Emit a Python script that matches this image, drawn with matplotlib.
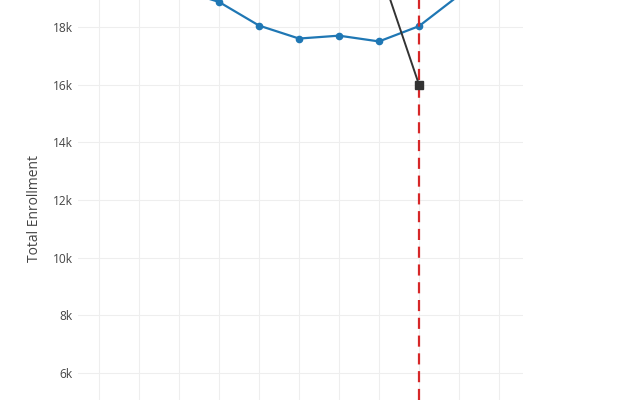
import matplotlib
matplotlib.use('Agg')
import matplotlib.pyplot as plt
from matplotlib.ticker import FuncFormatter

# data (points outside the visible window are rough guesses)
years = [2012, 2013, 2014, 2015, 2016, 2017, 2018, 2019, 2020, 2021, 2022]
enrollment = [20600, 20000, 19300, 18870, 18050, 17600, 17700, 17500, 18030, 19100, 19800]

proj_years = [2019, 2020]
proj_values = [20100, 16000]

event_year = 2020

plt.rcParams['font.family'] = ['Open Sans', 'DejaVu Sans']

fig = plt.figure(figsize=(6.4, 4), dpi=100)
ax = fig.add_axes([78/640, 0, (523-78)/640, 1])

ax.plot(years, enrollment, color='#1f77b4', lw=1.6, marker='o', ms=4.5, zorder=3)
ax.plot(proj_years, proj_values, color='#333333', lw=1.4, marker='s', ms=6, zorder=5)
ax.axvline(event_year, color='#d62728', lw=1.6, dashes=(5, 3), zorder=4)

ax.set_xlim(2012 - 0.525, 2012 + 10.6)
ax.set_ylim(5063, 18937)
ax.set_xticks(years)
ax.set_yticks(range(6000, 19000, 2000))
ax.yaxis.set_major_formatter(FuncFormatter(lambda v, p: '%dk' % (v/1000)))
ax.tick_params(axis='both', length=0, colors='#444444', labelsize=8.6, pad=4)
ax.tick_params(axis='x', labelbottom=False)
ax.grid(True, color='#eeeeee', lw=0.8)
ax.set_axisbelow(True)
for s in ax.spines.values():
    s.set_visible(False)

fig.text(34/640, 1 - 208/400, 'Total Enrollment', rotation=90, ha='center', va='center',
         fontsize=10, color='#444444')

fig.savefig('out.png', dpi=100)
